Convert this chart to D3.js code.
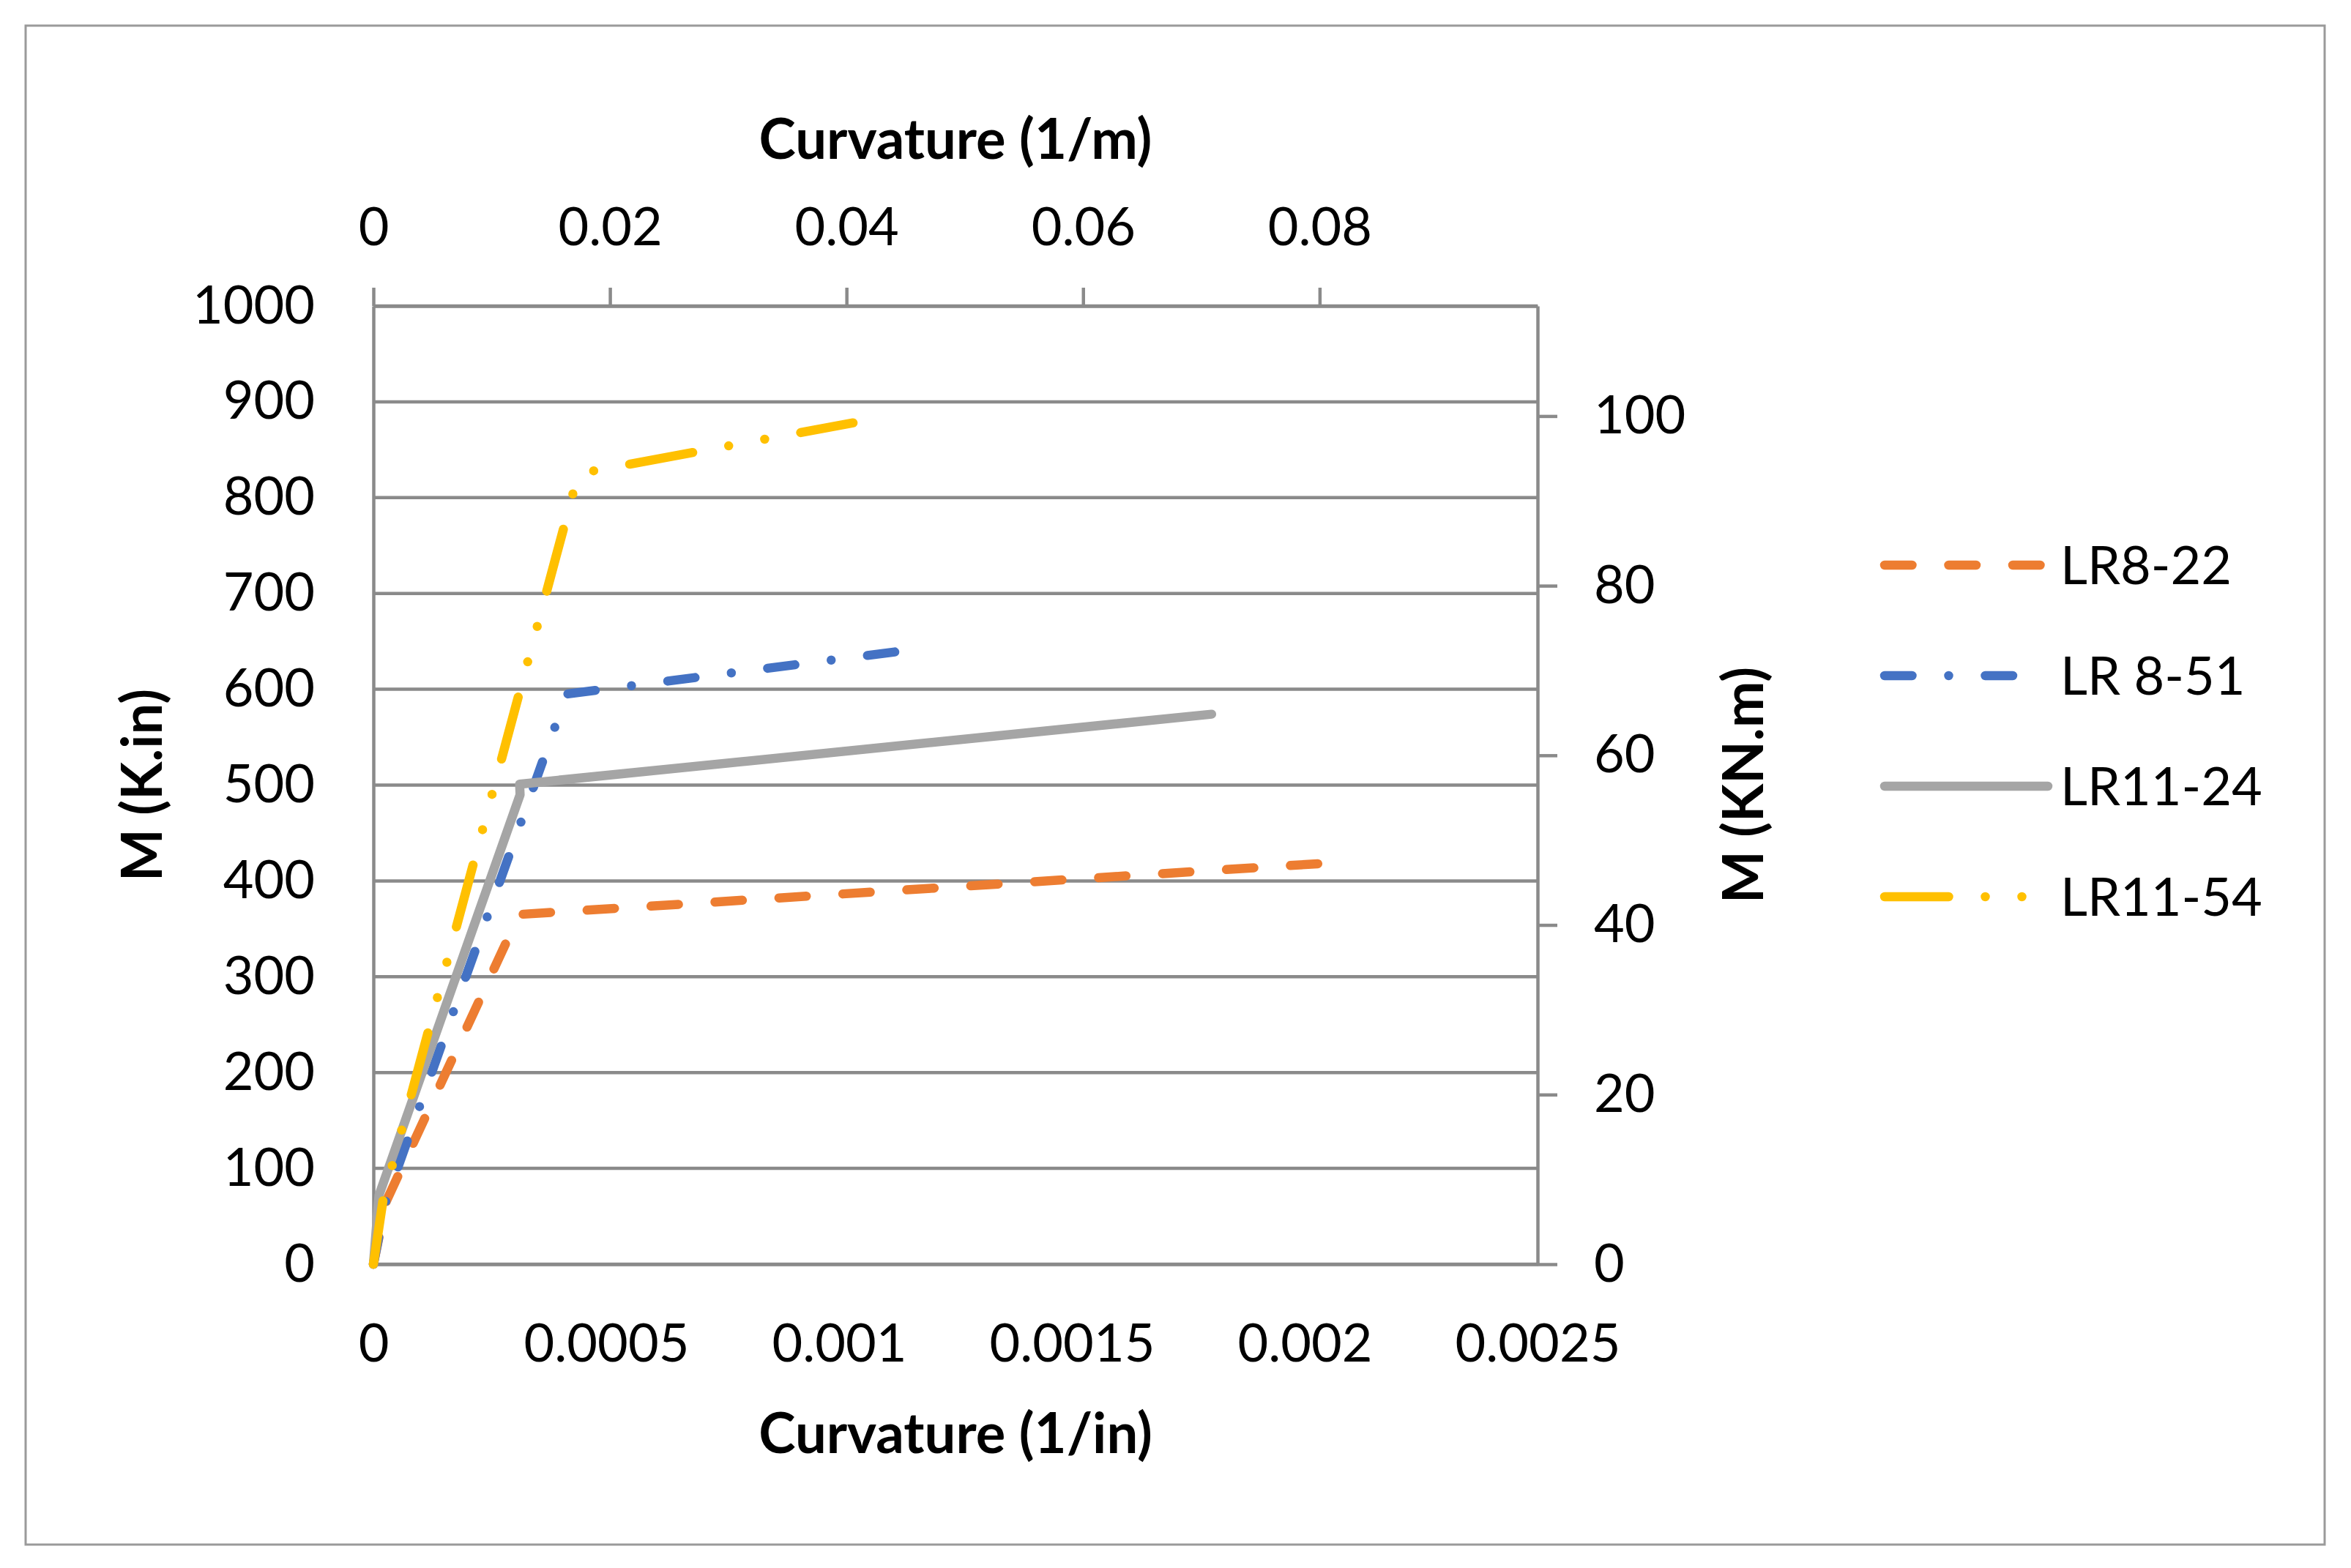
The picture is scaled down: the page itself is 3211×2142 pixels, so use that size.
<!DOCTYPE html>
<html>
<head>
<meta charset="utf-8">
<script src="https://cdn.jsdelivr.net/npm/d3@7"></script>
<style>
  body { margin: 0; background: #fff; }
  svg { display: block; font-family: Lato, "Open Sans", sans-serif; }
  .axis path, .axis line { stroke: #8a8a8a; stroke-width: 4.5; }
  .axis text { fill: #000; font-size: 72px; font-family: Lato, "Open Sans", sans-serif; }
  .title { font-size: 76px; font-weight: bold; fill: #000; }
</style>
</head>
<body>
<div id="chart"></div>
<script>
// series names, colours and dash styles (Excel defaults)
const names = ["LR8-22", "LR 8-51", "LR11-24", "LR11-54"];
const colors = ["#ED7D31", "#4472C4", "#A5A5A5", "#FFC000"];
const dashes = ["37.5,50", "37.5,50,0,50", null, "87.5,50,0,50,0,50"];

// curvature (1/in) and moment (K.in)
const curvLR822 = [0, 0.000028, 0.000313, 0.00203];
const momLR822  = [0, 66, 365, 418];
const curvLR851 = [0, 0.000026, 0.000415, 0.00112];
const momLR851  = [0, 65, 595, 639];
const curvLR1124 = [0, 0.000012, 0.000315, 0.000314, 0.0018];
const momLR1124  = [0, 72, 490, 501, 574];
const curvLR1154 = [0, 0.000021, 0.00044, 0.00103];
const momLR1154  = [0, 68, 825, 878];

// tick values
const xTicks = [0, 0.0005, 0.001, 0.0015, 0.002, 0.0025];
const x2Ticks = [0, 0.02, 0.04, 0.06, 0.08];
const yTicks = [0, 100, 200, 300, 400, 500, 600, 700, 800, 900, 1000];
const y2Ticks = [0, 20, 40, 60, 80, 100];

const curvs = [curvLR822, curvLR851, curvLR1124, curvLR1154];
const moms = [momLR822, momLR851, momLR1124, momLR1154];

const W = 3211, H = 2142;
const pLeft = 510, pRight = 2100, pTop = 418, pBottom = 1727;

const svg = d3.select("#chart").append("svg")
  .attr("width", W)
  .attr("height", H);

// chart border
svg.append("rect")
  .attr("x", 35).attr("y", 35)
  .attr("width", 3140).attr("height", 2075)
  .attr("fill", "#fff")
  .attr("stroke", "#9a9a9a")
  .attr("stroke-width", 3);

const x = d3.scaleLinear().domain([0, 0.0025]).range([pLeft, pRight]);
const x2 = d3.scaleLinear().domain([0, 0.0025 * 39.37]).range([pLeft, pRight]);
const y = d3.scaleLinear().domain([0, 1000]).range([pBottom, pTop]);
const y2 = d3.scaleLinear().domain([0, 1000 * 0.11298]).range([pBottom, pTop]);

// gridlines
svg.append("g")
  .selectAll("line")
  .data(yTicks)
  .enter()
  .append("line")
  .attr("x1", pLeft).attr("x2", pRight)
  .attr("y1", d => y(d)).attr("y2", d => y(d))
  .attr("stroke", "#8a8a8a")
  .attr("stroke-width", 4.5);

const fmt = d => d === 0 ? "0" : String(+d.toFixed(4));

// axes
svg.append("g").attr("class", "axis")
  .attr("transform", `translate(${pLeft},0)`)
  .call(d3.axisLeft(y).tickValues(yTicks).tickSize(0).tickPadding(80).tickFormat(d3.format("d")));

svg.append("g").attr("class", "axis")
  .attr("transform", `translate(0,${pBottom})`)
  .call(d3.axisBottom(x).tickValues(xTicks).tickSize(0).tickPadding(82).tickFormat(fmt));

svg.append("g").attr("class", "axis")
  .attr("transform", `translate(0,${pTop})`)
  .call(d3.axisTop(x2).tickValues(x2Ticks).tickSizeInner(25).tickSizeOuter(0).tickPadding(58).tickFormat(fmt));

svg.append("g").attr("class", "axis")
  .attr("transform", `translate(${pRight},0)`)
  .call(d3.axisRight(y2).tickValues(y2Ticks).tickSizeInner(27).tickSizeOuter(0).tickPadding(50).tickFormat(d3.format("d")));

// series lines
const line = d3.line()
  .x(d => x(d[0]))
  .y(d => y(d[1]));

names.forEach((name, i) => {
  const pts = curvs[i].map((c, j) => [c, moms[i][j]]);
  svg.append("path")
    .datum(pts)
    .attr("d", line)
    .attr("fill", "none")
    .attr("stroke", colors[i])
    .attr("stroke-width", 12.5)
    .attr("stroke-linecap", "round")
    .attr("stroke-linejoin", "round")
    .attr("stroke-dasharray", dashes[i]);
});

// axis titles
svg.append("text").attr("class", "title")
  .attr("x", (pLeft + pRight) / 2).attr("y", 217)
  .attr("text-anchor", "middle")
  .text("Curvature (1/m)");

svg.append("text").attr("class", "title")
  .attr("x", (pLeft + pRight) / 2).attr("y", 1985)
  .attr("text-anchor", "middle")
  .text("Curvature (1/in)");

svg.append("text").attr("class", "title")
  .attr("transform", `translate(221,${(pTop + pBottom) / 2}) rotate(-90)`)
  .attr("text-anchor", "middle")
  .text("M (K.in)");

svg.append("text").attr("class", "title")
  .attr("transform", `translate(2408,${(pTop + pBottom) / 2}) rotate(-90)`)
  .attr("text-anchor", "middle")
  .text("M (KN.m)");

// legend
const legend = svg.append("g")
  .selectAll("g")
  .data(names)
  .enter()
  .append("g")
  .attr("transform", (d, i) => `translate(2574,${772 + i * 151})`);

legend.append("line")
  .attr("x1", 0).attr("x2", 223)
  .attr("stroke", (d, i) => colors[i])
  .attr("stroke-width", 12.5)
  .attr("stroke-linecap", "round")
  .attr("stroke-dasharray", (d, i) => dashes[i]);

legend.append("text")
  .attr("x", 240)
  .attr("dy", "0.36em")
  .style("font-size", "72px")
  .text(d => d);
</script>
</body>
</html>
